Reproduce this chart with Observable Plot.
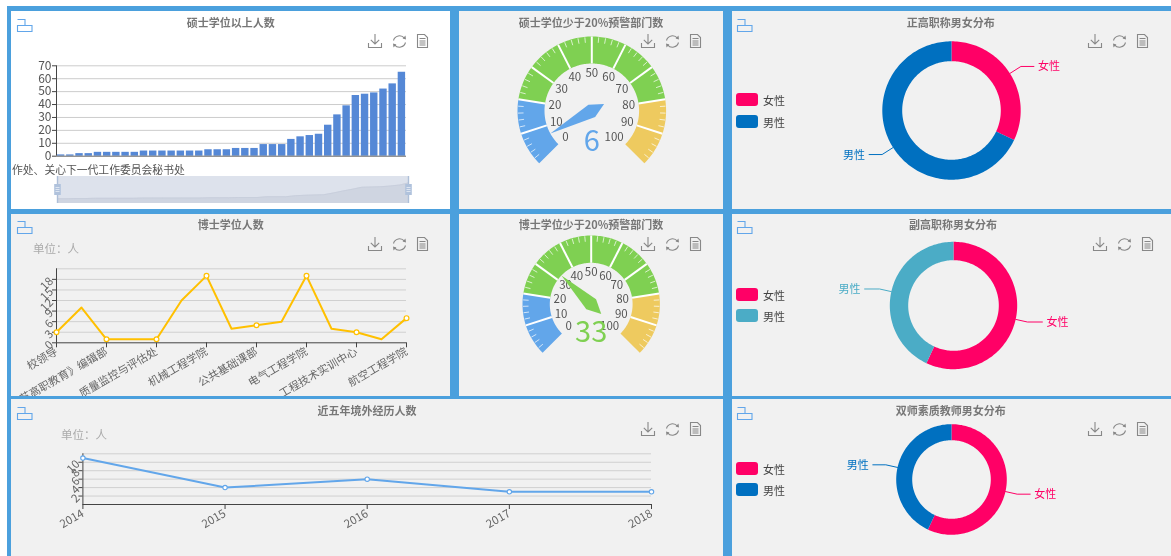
<!DOCTYPE html>
<html><head><meta charset="utf-8">
<script src="https://cdn.jsdelivr.net/npm/d3@7"></script>
<script src="https://cdn.jsdelivr.net/npm/@observablehq/plot@0.6"></script>
<style>
html,body{margin:0;padding:0;background:#fff;}
#stage{position:absolute;left:0;top:0;width:1171px;height:556px;overflow:hidden;background:#fff;font-family:"Noto Sans CJK SC","Noto Sans",sans-serif;filter:blur(0.4px);}
.panel{position:absolute;overflow:hidden;}
.t{position:absolute;white-space:nowrap;line-height:1;}
</style></head><body><div id="stage"></div>
<script>
// ---------- data ----------
const barValues = [1,1,2,2,3,3,3,3,3,4,4,4,4,4,4,4,5,5,5,6,6,6,9,9,9,13,15,16,17,24,32,39,47,48,49,52,56,65];
const barTicks = [0,10,20,30,40,50,60,70];
const barVisibleLabel = "作处、关心下一代工作委员会秘书处";

const phdValues = [3,10,1,1,1,12,19,4,5,6,19,4,3,1,7];
const phdLabels = ["校领导","《江苏高职教育》编辑部","质量监控与评估处","机械工程学院","公共基础课部","电气工程学院","工程技术实训中心","航空工程学院"];
const phdTicks = [0,3,6,9,12,15,18];
const phdGrid = [3,6,9,12,15,18,21];

const years = [2014,2015,2016,2017,2018];
const abroadValues = [11,4,6,3,3];
const abroadTicks = [2,4,6,8,10];
const abroadGrid = [2,4,6,8,10,12];

const gaugeTicks = [0,10,20,30,40,50,60,70,80,90];
const gaugeLast = [100];
const gaugeBands = [[0,20,"#62a6ea"],[20,80,"#7fd052"],[80,100,"#eeca5f"]];
const masterGauge = 6;
const phdGauge = 33;

const genderNames = ["女性","男性"];
const seniorShares = [32,68];
const associateShares = [57,43];
const dualShares = [57,43];
const PINK="#ff0066", BLUE="#0070c0", TEAL="#4bacc6", LINEBLUE="#62a6ea", YELLOW="#ffc000";

// ---------- helpers ----------
const stage=document.getElementById("stage");
const FONT='"Noto Sans CJK SC","Noto Sans",sans-serif';
function box(x0,y0,x1,y1,bg,parent=stage){
  const d=document.createElement("div");d.className="panel";
  d.style.cssText=`left:${x0}px;top:${y0}px;width:${x1-x0}px;height:${y1-y0}px;background:${bg}`;
  parent.appendChild(d);return d;
}
function label(s,x,y,css,align="center"){
  const e=document.createElement("div");e.className="t";e.textContent=s;
  const tx=align==="center"?"-50%":align==="right"?"-100%":"0";
  e.style.cssText=`left:${x}px;top:${y}px;transform:translate(${tx},-50%);${css}`;
  stage.appendChild(e);
}
function title(s,x,y){label(s,x,y,"font-size:11px;font-weight:700;color:#777");}
function place(plot,parent,left,top){
  plot.style.position="absolute";plot.style.left=left+"px";plot.style.top=top+"px";
  plot.style.maxWidth="none";plot.style.background="transparent";plot.style.overflow="visible";
  parent.appendChild(plot);
}
function svgIcon(x,y,w,h,inner){
  const s=document.createElementNS("http://www.w3.org/2000/svg","svg");
  s.setAttribute("width",w);s.setAttribute("height",h);s.setAttribute("viewBox",`0 0 ${w} ${h}`);
  s.style.cssText=`position:absolute;left:${x}px;top:${y}px;overflow:visible`;
  s.innerHTML=inner;stage.appendChild(s);
}
function toolbox(x1,x2,x3,y){
  const g='fill="none" stroke="#888" stroke-width="1.1"';
  svgIcon(x1-7,y-7,14,14,`<path ${g} d="M7 0V10M2.8 5.8L7 10L11.2 5.8M0.5 9V13.5H13.5V9"/>`);
  svgIcon(x2-7.5,y-7.5,15,15,`<path ${g} d="M1.5 6.5A6.2 6.2 0 0 1 12.4 4.2M13.5 8.5A6.2 6.2 0 0 1 2.6 10.8"/><path d="M10.6 4.6L14 5.4L13.5 1.6ZM4.4 10.4L1 9.6L1.5 13.4Z" fill="#888"/>`);
  svgIcon(x3-5.5,y-7,11,14,`<path ${g} d="M0.5 0.5H7.5L10.5 3.5V13.5H0.5ZM2.5 4.5H8.5M2.5 7H8.5M2.5 9H8.5M2.5 11H8.5"/>`);
}
function corner(x,y){
  svgIcon(x,y,16,13,`<path fill="none" stroke="#62a6ea" stroke-width="1.1" d="M0.5 6.5H15V12.5H0.5ZM0.5 0.5H8V6.5"/>`);
}
function legend(x,y1,y2,c1,c2){
  [[y1,c1,genderNames[0]],[y2,c2,genderNames[1]]].forEach(([y,c,n])=>{
    const d=document.createElement("div");
    d.style.cssText=`position:absolute;left:${x}px;top:${y}px;width:22px;height:13px;border-radius:3px;background:${c}`;
    stage.appendChild(d);
    label(n,x+27,y+7,"font-size:11px;color:#444","left");
  });
}
const rad=a=>a*Math.PI/180;
// angle measured clockwise from 12 o'clock; y grows downward in these plots
const polar=(a,r)=>({x:r*Math.sin(rad(a)),y:-r*Math.cos(rad(a))});
function ringPolygon(a0,a1,R,r){
  const n=Math.max(2,Math.ceil(Math.abs(a1-a0)/1.5)),pts=[];
  for(let i=0;i<=n;i++)pts.push(polar(a0+(a1-a0)*i/n,R));
  for(let i=n;i>=0;i--)pts.push(polar(a0+(a1-a0)*i/n,r));
  return pts;
}
function polarPlot(S,marks){
  return Plot.plot({width:2*S,height:2*S,margin:0,axis:null,
    x:{domain:[-S,S],range:[0,2*S]},y:{domain:[-S,S],range:[0,2*S]},
    style:{fontFamily:FONT},marks});
}

// ---------- frame ----------
box(7,6,1171,556,"#4ba0dd");
const p1=box(11,11,450,209,"#ffffff");
const p2=box(459,11,723,209,"#f1f1f1");
const p3=box(732,11,1171,209,"#f1f1f1");
const p4=box(11,214,450,396,"#f1f1f1");
const p5=box(459,214,723,396,"#f1f1f1");
const p6=box(732,214,1171,396,"#f1f1f1");
const p7=box(11,399,723,556,"#f1f1f1");
const p8=box(732,399,1171,556,"#f1f1f1");

// ---------- bar chart ----------
place(Plot.plot({width:439,height:198,marginLeft:45,marginRight:44,marginTop:54.3,marginBottom:53.3,
  x:{domain:[0,barValues.length],axis:null},y:{domain:[0,70],axis:null},style:{fontFamily:FONT},
  marks:[
    Plot.gridY(barTicks.slice(1),{stroke:"#ccc",strokeOpacity:1}),
    Plot.rectY(barValues,{x1:(d,i)=>i,x2:(d,i)=>i+1,y1:0,y2:d=>d,fill:"#5588d6",insetLeft:0.9,insetRight:0.9}),
    Plot.axisY(barTicks,{tickSize:4,tickPadding:1,fontSize:12,color:"#555",stroke:"#444",label:null,tickFormat:d=>d}),
    Plot.ruleX([0],{stroke:"#444"}),Plot.ruleY([0],{stroke:"#666"})
  ]}),p1,0,0);
label(barVisibleLabel,12,169,"font-size:10.8px;color:#555","left");
// data zoom
const slider=box(57,176,409,203,"#dde2ec");
place(Plot.plot({width:352,height:27,margin:0,axis:null,x:{domain:[0,barValues.length-1]},y:{domain:[-18,90]},
  marks:[
    Plot.areaY(barValues,{x:(d,i)=>i,y1:-18,y2:d=>d,fill:"#cfd5e1"}),
    Plot.lineY(barValues,{x:(d,i)=>i,y:d=>d,stroke:"#c6cdda",strokeWidth:0.8})
  ]}),slider,0,0);
[57,408].forEach(x=>{
  svgIcon(x-3.5,176,8,27,`<path d="M3.5 0V27" stroke="#aebfd8" stroke-width="1.4"/><rect x="0.2" y="8" width="6.6" height="11" fill="#b0c2dc"/><path d="M1.5 11.5H5.5M1.5 13.5H5.5M1.5 15.5H5.5" stroke="#e8eef6" stroke-width="0.8"/>`);
});

// ---------- doctorate line ----------
place(Plot.plot({width:439,height:182,marginLeft:45,marginRight:44,marginTop:54.3,marginBottom:53.7,
  x:{domain:[0,phdValues.length-1],axis:null},y:{domain:[0,21],axis:null},style:{fontFamily:FONT},
  marks:[
    Plot.gridY(phdGrid,{stroke:"#d0d0d0",strokeOpacity:1}),
    Plot.ruleX([0],{stroke:"#444"}),Plot.ruleY([0],{stroke:"#444"}),
    Plot.axisY(phdTicks,{tickSize:4,tickPadding:1,fontSize:11.5,color:"#666",stroke:"#444",tickRotate:-45,label:null,tickFormat:d=>d}),
    Plot.axisX(d3.range(0,15,2),{tickSize:5,tickPadding:3,fontSize:11,color:"#666",stroke:"#444",tickRotate:-30,label:null,tickFormat:d=>phdLabels[d/2]}),
    Plot.line(phdValues,{x:(d,i)=>i,y:d=>d,stroke:YELLOW,strokeWidth:2}),
    Plot.dot(phdValues,{filter:(d,i)=>i%2===0,x:(d,i)=>i,y:d=>d,r:2.4,fill:"#fff",stroke:YELLOW,strokeWidth:1.2})
  ]}),p4,0,0);
label("单位：人",33,249,"font-size:11.5px;color:#aaa","left");

// ---------- abroad line ----------
place(Plot.plot({width:712,height:157,marginLeft:71.4,marginRight:72,marginTop:54.3,marginBottom:52,
  x:{domain:[2014,2018],axis:null},y:{domain:[0,12],axis:null},style:{fontFamily:FONT},
  marks:[
    Plot.gridY(abroadGrid,{stroke:"#d0d0d0",strokeOpacity:1}),
    Plot.ruleX([2014],{stroke:"#444"}),Plot.ruleY([0],{stroke:"#444"}),
    Plot.axisY(abroadTicks,{tickSize:4,tickPadding:1,fontSize:11.5,color:"#666",stroke:"#444",tickRotate:-45,label:null,tickFormat:d=>d}),
    Plot.axisX(years,{tickSize:5,tickPadding:3,fontSize:11.5,color:"#666",stroke:"#444",tickRotate:-30,label:null,tickFormat:d=>String(d)}),
    Plot.line(years,{x:d=>d,y:(d,i)=>abroadValues[i],stroke:LINEBLUE,strokeWidth:2}),
    Plot.dot(years,{x:d=>d,y:(d,i)=>abroadValues[i],r:2.2,fill:"#fff",stroke:LINEBLUE,strokeWidth:1.1})
  ]}),p7,0,0);
label("单位：人",61,435,"font-size:11.5px;color:#aaa","left");

// ---------- gauges ----------
const vAngle=v=>-135+v*2.7;
function gauge(parent,ox,oy,cx,cy,R,r,value){
  const S=R+6;
  const col=gaugeBands.find(b=>value>=b[0]&&value<=b[1])[2];
  const marks=[];
  gaugeBands.forEach(([a,b,c])=>{
    marks.push(Plot.line(ringPolygon(vAngle(a),vAngle(b),R,r),{x:"x",y:"y",fill:c,stroke:null,curve:"linear"}));
  });
  const minor=d3.range(0,100.01,2).filter(v=>v%10!==0);
  marks.push(Plot.link(minor,{x1:v=>polar(vAngle(v),R-0.5).x,y1:v=>polar(vAngle(v),R-0.5).y,x2:v=>polar(vAngle(v),R-6).x,y2:v=>polar(vAngle(v),R-6).y,stroke:"#fff",strokeWidth:1,strokeOpacity:0.7}));
  const splits=gaugeTicks.filter(v=>v!==0);
  marks.push(Plot.link(splits,{x1:v=>polar(vAngle(v),R).x,y1:v=>polar(vAngle(v),R).y,x2:v=>polar(vAngle(v),r).x,y2:v=>polar(vAngle(v),r).y,stroke:"#fff",strokeWidth:2}));
  marks.push(Plot.text(gaugeTicks,{x:v=>polar(vAngle(v),R-37).x,y:v=>polar(vAngle(v),R-37).y,text:v=>String(v),fontSize:11.5,fill:"#555"}));
  marks.push(Plot.text(gaugeLast,{x:v=>polar(vAngle(v),R-37).x,y:v=>polar(vAngle(v),R-37).y,text:v=>String(v),fontSize:11.5,fill:"#555",dx:-4}));
  const a=vAngle(value),tip=polar(a,r),tail=polar(a+180,14),s1=polar(a+90,7),s2=polar(a-90,7);
  marks.push(Plot.line([tip,s1,tail,s2,tip],{x:"x",y:"y",fill:col,stroke:null,curve:"linear"}));
  marks.push(Plot.text([value],{x:0,y:()=>R*0.41,text:v=>String(v),fontSize:29,fill:col}));
  place(polarPlot(S,marks),parent,cx-S-ox,cy-S-oy);
}
gauge(p2,459,11,591.3,110,74.3,47.3,masterGauge);
gauge(p5,459,214,591,304,68.7,41.4,phdGauge);

// ---------- donuts ----------
function donut(parent,ox,oy,cx,cy,R,r,shares,colors,L1,L2){
  const S=160;
  const arcs=d3.pie().sort(null)(shares);
  const marks=[];
  arcs.forEach((s,i)=>{
    const a0=s.startAngle*180/Math.PI,a1=s.endAngle*180/Math.PI,m=(a0+a1)/2;
    marks.push(Plot.line(ringPolygon(a0,a1,R,r),{x:"x",y:"y",fill:colors[i],stroke:null,curve:"linear"}));
    const p0=polar(m,R),p1_=polar(m,R+L1);
    const dir=Math.sin(rad(m))>=0?1:-1;
    const p2_={x:p1_.x+dir*L2,y:p1_.y};
    marks.push(Plot.line([p0,p1_,p2_],{x:"x",y:"y",stroke:colors[i],strokeWidth:1}));
    marks.push(Plot.text([genderNames[i]],{x:p2_.x+dir*4,y:p2_.y+0.5,text:d=>d,fontSize:11,fill:colors[i],textAnchor:dir>0?"start":"end"}));
  });
  place(polarPlot(S,marks),parent,cx-S-ox,cy-S-oy);
}
donut(p3,732,11,950.7,110.2,69.2,49.3,seniorShares,[PINK,BLUE],13,13);
donut(p6,732,214,953,304.7,63.7,45.3,associateShares,[PINK,TEAL],12,15);
donut(p8,732,399,950.7,478.8,55.3,39.3,dualShares,[PINK,BLUE],12,13);

legend(736,93,115,PINK,BLUE);
legend(736,288,309,PINK,TEAL);
legend(736,462,483,PINK,BLUE);

// ---------- titles and furniture ----------
title("硕士学位以上人数",230.7,22);
title("硕士学位少于20%预警部门数",591,22);
title("正高职称男女分布",950.7,22);
title("博士学位人数",230.7,224);
title("博士学位少于20%预警部门数",591,224);
title("副高职称男女分布",953,224);
title("近五年境外经历人数",367,410);
title("双师素质教师男女分布",950.7,410);
toolbox(375,399,422,41);toolbox(648,672,695,41);toolbox(1095,1119,1142,41);
toolbox(375,399,422,244);toolbox(648,672,695,244);toolbox(1100,1124,1147,244);
toolbox(648,672,695,429);toolbox(1095,1119,1142,429);
corner(17,19);corner(737,19);corner(17,221);corner(737,221);corner(17,407);corner(737,407);
</script></body></html>
